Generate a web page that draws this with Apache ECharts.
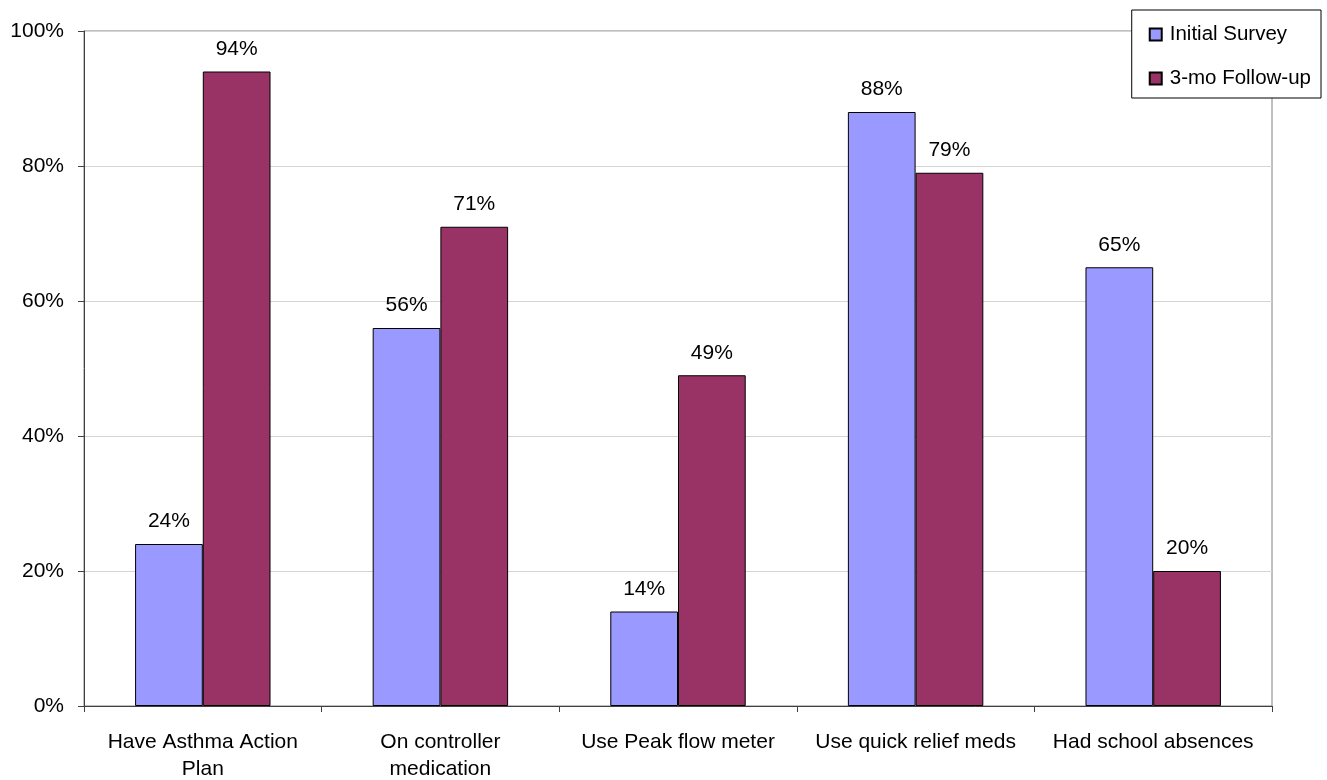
<!DOCTYPE html>
<html>
<head>
<meta charset="utf-8">
<script src="https://cdn.jsdelivr.net/npm/echarts@6/dist/echarts.min.js"></script>
<style>
  html, body { margin: 0; padding: 0; background: #fff; }
  #chart { width: 1327px; height: 780px; }
</style>
</head>
<body>
<div id="chart"></div>
<script>
// Asthma care indicators, before and after the program (percent of respondents)
const categories = [
  'Have Asthma Action\nPlan',
  'On controller\nmedication',
  'Use Peak flow meter',
  'Use quick relief meds',
  'Had school absences'
];
const seriesNames = ['Initial Survey', '3-mo Follow-up'];
const initialSurvey = [24, 56, 14, 88, 65];
const followUp = [94, 71, 49, 79, 20];
const yTicks = [0, 20, 40, 60, 80, 100];

const FONT = '"Liberation Sans", Arial, sans-serif';
const FS = 21;
const chart = echarts.init(document.getElementById('chart'), null, { renderer: 'canvas' });

function barSeries(name, data, color) {
  return {
    name: name,
    type: 'bar',
    data: data,
    barGap: '0%',
    barCategoryGap: '43%',
    itemStyle: { color: color, borderColor: '#000', borderWidth: 1 },
    label: {
      show: true,
      position: 'top',
      distance: 12,
      formatter: '{c}%',
      color: '#000',
      fontSize: FS,
      fontFamily: FONT
    }
  };
}

chart.setOption({
  animation: false,
  backgroundColor: '#fff',
  textStyle: { fontFamily: FONT },
  grid: {
    left: 84, right: 55, top: 31, bottom: 74,
    outerBoundsMode: 'none',
    containLabel: false,
    show: true, borderColor: '#808080', borderWidth: 1
  },
  legend: {
    orient: 'vertical',
    right: 6, top: 10,
    data: seriesNames,
    icon: 'rect',
    itemWidth: 12, itemHeight: 12,
    itemGap: 23,
    padding: [14, 10, 9, 17],
    backgroundColor: '#fff',
    borderColor: '#000',
    borderWidth: 1,
    textStyle: { fontSize: 20.5, color: '#000', fontFamily: FONT, padding: [0, 0, 0, 3] }
  },
  xAxis: {
    type: 'category',
    data: categories,
    axisLine: { lineStyle: { color: '#404040', width: 1 } },
    axisTick: { show: true, alignWithLabel: false, length: 6, lineStyle: { color: '#404040' } },
    axisLabel: {
      fontSize: FS, color: '#000', fontFamily: FONT,
      margin: 23, lineHeight: 27, interval: 0
    }
  },
  yAxis: {
    type: 'value',
    min: 0, max: 100, interval: 20,
    axisLine: { show: true, lineStyle: { color: '#404040', width: 1 } },
    axisTick: { show: true, length: 6, lineStyle: { color: '#404040' } },
    axisLabel: {
      fontSize: FS, color: '#000', fontFamily: FONT, margin: 20,
      formatter: function (v) { return yTicks.indexOf(v) >= 0 ? v + '%' : ''; }
    },
    splitLine: { show: true, lineStyle: { color: '#d4d4d4', width: 1 } }
  },
  series: [
    barSeries(seriesNames[0], initialSurvey, '#9999FF'),
    barSeries(seriesNames[1], followUp, '#993366')
  ]
});
</script>
</body>
</html>
